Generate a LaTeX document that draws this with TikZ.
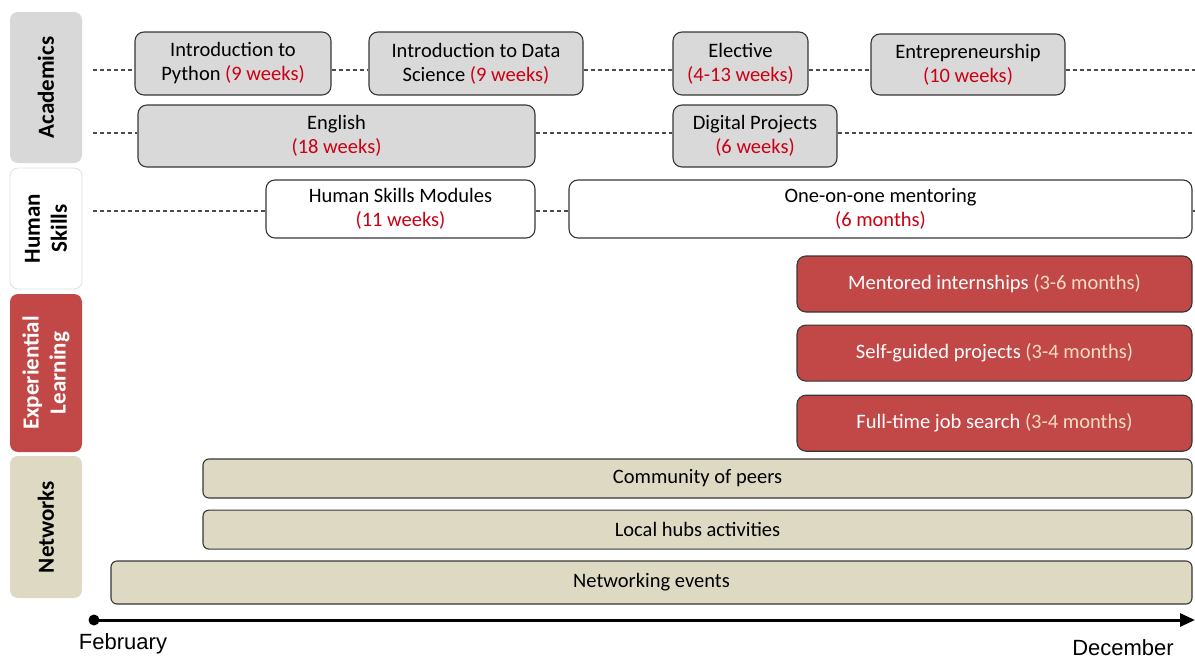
\documentclass[tikz,border=0pt]{standalone}
\usepackage{fontspec}
\setmainfont{Carlito}
\newfontfamily\arialfont{Liberation Sans}
\usepackage{tikz}
\usetikzlibrary{arrows.meta,positioning}
\usepackage{xcolor}

\definecolor{acadgray}{RGB}{217,217,217}
\definecolor{tabgray}{RGB}{216,216,216}
\definecolor{explred}{RGB}{194,72,72}
\definecolor{netbeige}{RGB}{221,217,195}
\definecolor{durred}{RGB}{204,0,20}
\definecolor{durlight}{RGB}{243,222,196}
\definecolor{boxline}{RGB}{55,55,55}

\newcommand{\dur}[1]{\textcolor{durred}{#1}}
\newcommand{\durw}[1]{\textcolor{durlight}{#1}}

\begin{document}
\begin{tikzpicture}[
    x=1pt, y=-1pt,
    every node/.style={font=\fontsize{20.5}{24}\selectfont},
    course/.style={draw=boxline, line width=1.1pt, rounded corners=9pt, align=center, inner sep=0pt},
    acad/.style={course, fill=acadgray},
    human/.style={course, fill=white},
    expl/.style={course, fill=explred, text=white, minimum width=395pt, minimum height=56pt},
    netw/.style={course, fill=netbeige, rounded corners=6pt},
    tab/.style={rotate=90, rounded corners=8pt, minimum height=72pt, align=center, inner sep=0pt,
                font=\fontsize{23}{27}\selectfont\bfseries},
    conn/.style={dash pattern=on 4pt off 3pt, line width=1.2pt, draw=black!70},
    timeline/.style={line width=3pt, -{Triangle[length=15pt,width=13pt]}},
    month/.style={font=\fontsize{22}{26}\selectfont\arialfont}
]
\useasboundingbox (0,0) rectangle (1195,662);

% side tabs
\node[tab, fill=tabgray, minimum width=151pt] (acadtab) at (46,87.5) {Academics};
\node[tab, fill=white, draw=gray!25, line width=0.8pt, minimum width=121pt] (humantab) at (46,228.5) {Human\\Skills};
\node[tab, fill=explred, text=white, minimum width=158pt] (expltab) at (46,373) {Experiential\\Learning};
\node[tab, fill=netbeige, minimum width=142pt] (nettab) at (46,527) {Networks};

% academics
\node[acad, minimum width=196pt, minimum height=63pt] (python) at (233,63.5) {Introduction to\\Python \dur{(9 weeks)}};
\node[acad, minimum width=214pt, minimum height=63pt] (datasci) at (476,63.5) {Introduction to Data\\Science \dur{(9 weeks)}};
\node[acad, minimum width=135pt, minimum height=63pt] (elective) at (740.5,63.5) {Elective\\\dur{(4-13 weeks)}};
\node[acad, minimum width=194pt, minimum height=61pt] (entre) at (968,64.5) {Entrepreneurship\\\dur{(10 weeks)}};
\node[acad, minimum width=397pt, minimum height=62pt] (english) at (336.5,136) {English\\\dur{(18 weeks)}};
\node[acad, minimum width=164pt, minimum height=62pt] (digital) at (755,136) {Digital Projects\\\dur{(6 weeks)}};

% human skills
\node[human, minimum width=269pt, minimum height=58pt] (hsm) at (400.5,209) {Human Skills Modules\\\dur{(11 weeks)}};
\node[human, minimum width=623pt, minimum height=58pt] (mentor) at (880.5,209) {One-on-one mentoring\\\dur{(6 months)}};

% experiential learning
\node[expl] (intern) at (994.5,284) {Mentored internships \durw{(3-6 months)}};
\node[expl, below=12pt of intern] (selfproj) {Self-guided projects \durw{(3-4 months)}};
\node[expl, below=13pt of selfproj] (jobsearch) {Full-time job search \durw{(3-4 months)}};

% networks
\node[netw, minimum width=989pt, minimum height=39pt] (peers) at (697.5,478.5) {Community of peers};
\node[netw, minimum width=989pt, minimum height=39pt, below=11pt of peers] (hubs) {Local hubs activities};
\node[netw, minimum width=1081pt, minimum height=43pt] (netev) at (651.5,582.5) {Networking events};

% dashed rows
\coordinate (r1) at (93,70);   \coordinate (r1end) at (1195,70);
\coordinate (r2) at (93,133);  \coordinate (r2end) at (1195,133);
\coordinate (r3) at (93,211);  \coordinate (r3end) at (1195,211);
\draw[conn] (r1) -- (python.west |- r1);
\draw[conn] (python.east |- r1) -- (datasci.west |- r1);
\draw[conn] (datasci.east |- r1) -- (elective.west |- r1);
\draw[conn] (elective.east |- r1) -- (entre.west |- r1);
\draw[conn] (entre.east |- r1) -- (r1end);
\draw[conn] (r2) -- (english.west |- r2);
\draw[conn] (english.east |- r2) -- (digital.west |- r2);
\draw[conn] (digital.east |- r2) -- (r2end);
\draw[conn] (r3) -- (hsm.west |- r3);
\draw[conn] (hsm.east |- r3) -- (mentor.west |- r3);
\draw[conn] (mentor.east |- r3) -- (r3end);

% timeline
\node[circle, fill=black, inner sep=0pt, minimum size=11pt] (t0) at (94,620) {};
\coordinate (tend) at (1195,620);
\draw[timeline] (t0.center) -- (tend);
\node[month] (feb) at (123,644) {February};
\node[month] (dec) at (1123,648) {December};

\end{tikzpicture}
\end{document}
